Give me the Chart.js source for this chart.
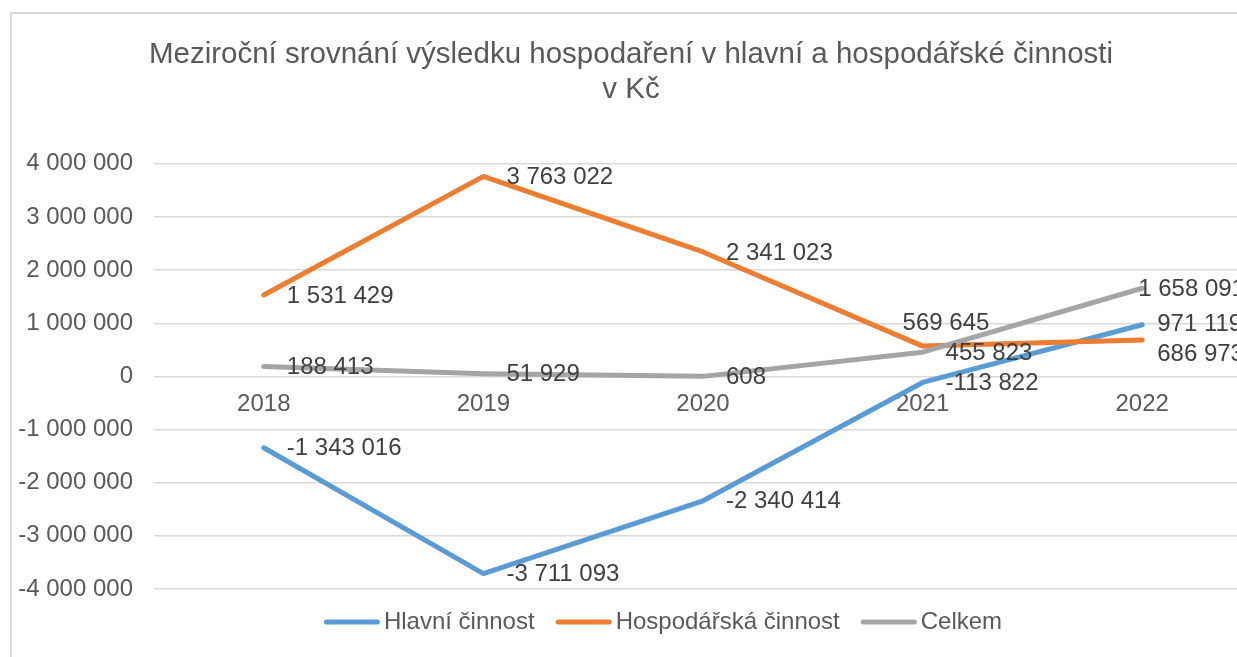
<!DOCTYPE html>
<html><head><meta charset="utf-8">
<script src="https://cdn.jsdelivr.net/npm/chart.js@4/dist/chart.umd.min.js"></script>
<style>
html,body{margin:0;padding:0;background:#fff;overflow:hidden;width:1237px;height:657px;}
#frame{position:absolute;left:10px;top:12px;width:1300px;height:700px;border-left:2px solid #d9d9d9;border-top:2px solid #d9d9d9;box-sizing:border-box}
#wrap{position:absolute;left:10px;top:12px;width:1242px;height:645px;}
</style></head><body>
<div id="frame"></div>
<div id="wrap"><canvas id="c"></canvas></div>
<script>
const titleLines = ['Meziroční srovnání výsledku hospodaření v hlavní a hospodářské činnosti', 'v Kč'];
const categories = ['2018', '2019', '2020', '2021', '2022'];
const seriesNames = ['Hlavní činnost', 'Hospodářská činnost', 'Celkem'];
const hlavni = [-1343016, -3711093, -2340414, -113822, 971119];
const hospodarska = [1531429, 3763022, 2341023, 569645, 686973];
const celkem = [188413, 51929, 608, 455823, 1658091];
const yMin = -4000000, yMax = 4000000, yStep = 1000000;

const FONT = "'Liberation Sans', Arial, sans-serif";
const colors = ['#5B9BD5', '#ED7D31', '#A5A5A5'];

function fmt(v) {
  const s = String(Math.abs(Math.round(v))).replace(/\B(?=(\d{3})+(?!\d))/g, ' ');
  return (v < 0 ? '-' : '') + s;
}

// label placement tweaks (dx, dy from point), per dataset & index
const defaultLabelOffset = [23, 1];
const labelOffsetOverrides = {
  '1-3': [-20, -23],
  '2-4': [-4, 1],
  '0-4': [15, 0],
  '1-4': [15, 14]
};

const dataLabelPlugin = {
  id: 'dataLabels',
  afterDatasetsDraw(chart) {
    const ctx = chart.ctx;
    ctx.save();
    ctx.font = '24px ' + FONT;
    ctx.fillStyle = '#404040';
    ctx.textAlign = 'left';
    ctx.textBaseline = 'middle';
    chart.data.datasets.forEach((ds, di) => {
      const meta = chart.getDatasetMeta(di);
      meta.data.forEach((pt, i) => {
        const off = labelOffsetOverrides[di + '-' + i] || defaultLabelOffset;
        ctx.fillText(fmt(ds.data[i]), pt.x + off[0], pt.y + off[1]);
      });
    });
    ctx.restore();
  }
};

const legendPlugin = {
  id: 'customLegend',
  afterDraw(chart) {
    const ctx = chart.ctx;
    ctx.save();
    ctx.font = '24px ' + FONT;
    const lineLen = 56, gapText = 4, gapItem = 21;
    const widths = seriesNames.map(n => lineLen + gapText + ctx.measureText(n).width);
    const total = widths.reduce((a, b) => a + b, 0) + gapItem * (seriesNames.length - 1);
    let x = 653 - total / 2;
    const y = 610;
    seriesNames.forEach((n, i) => {
      ctx.strokeStyle = colors[i];
      ctx.lineWidth = 5;
      ctx.lineCap = 'round';
      ctx.beginPath();
      ctx.moveTo(x + 2.5, y);
      ctx.lineTo(x + lineLen - 2.5, y);
      ctx.stroke();
      ctx.fillStyle = '#595959';
      ctx.textAlign = 'left';
      ctx.textBaseline = 'middle';
      ctx.fillText(n, x + lineLen + gapText, y);
      x += widths[i] + gapItem;
    });
    ctx.restore();
  }
};

const seriesData = [hlavni, hospodarska, celkem];
const datasets = seriesData.map((d, i) => ({
  label: seriesNames[i],
  data: d,
  borderColor: colors[i],
  backgroundColor: colors[i],
  borderWidth: 5,
  borderCapStyle: 'round',
  borderJoinStyle: 'round',
  pointRadius: 0,
  tension: 0,
  fill: false,
  order: 2 - i
}));

new Chart(document.getElementById('c'), {
  type: 'line',
  data: { labels: categories, datasets },
  options: {
    responsive: true,
    maintainAspectRatio: false,
    animation: false,
    layout: { padding: { left: 0, right: 0, top: 0, bottom: 68 } },
    plugins: {
      legend: { display: false },
      tooltip: { enabled: false },
      title: {
        display: true,
        text: titleLines,
        color: '#595959',
        font: { family: FONT, size: 29.5, weight: 'normal', lineHeight: 1.2 },
        padding: { top: 25, bottom: 56 }
      }
    },
    scales: {
      x: {
        position: { y: 0 },
        offset: true,
        grid: { display: false, drawTicks: false },
        border: { display: false },
        ticks: { color: '#595959', font: { family: FONT, size: 24 }, padding: 14, maxRotation: 0 }
      },
      y: {
        min: yMin, max: yMax,
        afterFit(s) { s.width = 144; },
        grid: { color: '#d9d9d9', lineWidth: 1.5, drawTicks: false },
        border: { display: false },
        ticks: {
          stepSize: yStep,
          color: '#595959',
          font: { family: FONT, size: 24 },
          padding: 21,
          callback: v => fmt(v)
        }
      }
    }
  },
  plugins: [dataLabelPlugin, legendPlugin]
});
</script>
</body></html>
